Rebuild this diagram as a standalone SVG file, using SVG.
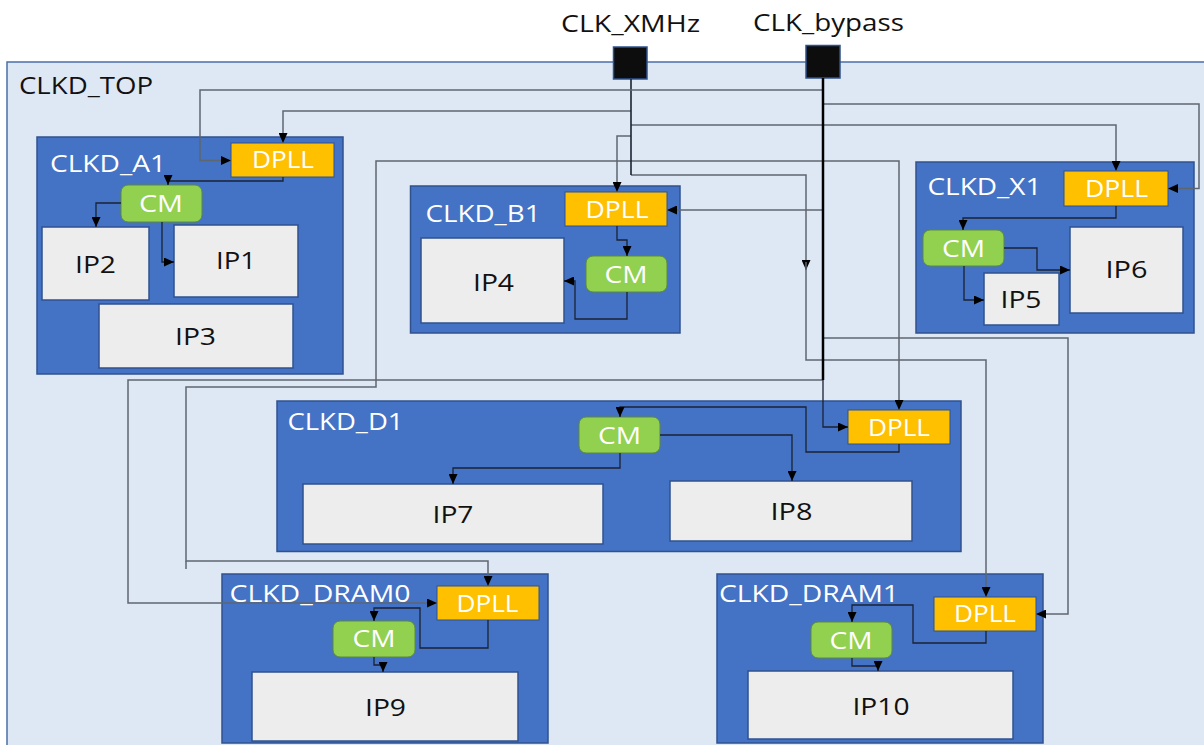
<svg xmlns="http://www.w3.org/2000/svg" width="1204" height="745" viewBox="0 0 1204 745">
  <style>
    text { font-family: "Open Sans", "Noto Sans", "DejaVu Sans", sans-serif; font-size: 24px; text-anchor: middle; lengthAdjust: spacingAndGlyphs; }
    .dark { fill: #111111; }
    .light { fill: #ffffff; }
    .top { fill: #DEE8F4; stroke: #4A6FA8; stroke-width: 1.5; }
    .port { fill: #0D0D0D; stroke: #2F528F; stroke-width: 1.5; }
    .blk { fill: #4472C4; stroke: #2F528F; stroke-width: 1.5; }
    .dpll { fill: #FFC000; stroke: #2F528F; stroke-width: 1; }
    .cm { fill: #92D050; stroke: #5C8A3C; stroke-width: 1; }
    .ip { fill: #EDEDED; stroke: #2F528F; stroke-width: 1.5; }
    .route { fill: none; stroke: #5E6670; stroke-width: 1.5; }
    .inner { fill: none; stroke: #1A2233; stroke-width: 1.3; }
    .main { fill: none; stroke: #000000; stroke-width: 2.5; }
  </style>
  <defs>
    <marker id="arrow" markerUnits="userSpaceOnUse" markerWidth="10" markerHeight="9" refX="10" refY="4.5" orient="auto">
      <path d="M0,0 L10,4.5 L0,9 z" fill="#000000"/>
    </marker>
  </defs>

  <!-- top-level clock domain -->
  <g id="clkd_top">
    <rect class="top" x="7" y="62" width="1215" height="700"/>
    <text class="dark" x="86" y="94" textLength="134" lengthAdjust="spacingAndGlyphs">CLKD_TOP</text>
  </g>

  <!-- input clock pins -->
  <g id="clk_xmhz">
    <rect class="port" x="613.5" y="47" width="33.5" height="32"/>
    <text class="dark" x="630.5" y="31.5" textLength="139" lengthAdjust="spacingAndGlyphs">CLK_XMHz</text>
  </g>
  <g id="clk_bypass">
    <rect class="port" x="806" y="45.5" width="34" height="32.5"/>
    <text class="dark" x="828.5" y="31" textLength="151" lengthAdjust="spacingAndGlyphs">CLK_bypass</text>
  </g>

  <!-- sub-domains -->
  <g id="clkd_a1">
    <rect class="blk" x="37" y="137" width="306" height="237"/>
    <text class="light" x="108" y="171.5" textLength="116" lengthAdjust="spacingAndGlyphs">CLKD_A1</text>
  </g>
  <g id="clkd_b1">
    <rect class="blk" x="410.5" y="186" width="269.5" height="147"/>
    <text class="light" x="483" y="222" textLength="115" lengthAdjust="spacingAndGlyphs">CLKD_B1</text>
  </g>
  <g id="clkd_x1">
    <rect class="blk" x="916" y="162" width="278" height="171"/>
    <text class="light" x="984.5" y="195" textLength="114" lengthAdjust="spacingAndGlyphs">CLKD_X1</text>
  </g>
  <g id="clkd_d1">
    <rect class="blk" x="277" y="401" width="684" height="150.5"/>
    <text class="light" x="345.5" y="430" textLength="116" lengthAdjust="spacingAndGlyphs">CLKD_D1</text>
  </g>
  <g id="clkd_dram0">
    <rect class="blk" x="222" y="574" width="326" height="169"/>
    <text class="light" x="320" y="602" textLength="181" lengthAdjust="spacingAndGlyphs">CLKD_DRAM0</text>
  </g>
  <g id="clkd_dram1">
    <rect class="blk" x="717" y="574" width="326" height="169"/>
    <text class="light" x="809" y="602" textLength="180" lengthAdjust="spacingAndGlyphs">CLKD_DRAM1</text>
  </g>

  <!-- DPLLs -->
  <g id="a1_dpll">
    <rect class="dpll" x="231" y="143" width="103" height="34"/>
    <text class="light" x="283" y="168" textLength="62" lengthAdjust="spacingAndGlyphs">DPLL</text>
  </g>
  <g id="b1_dpll">
    <rect class="dpll" x="565" y="192" width="102" height="34"/>
    <text class="light" x="617" y="218" textLength="63" lengthAdjust="spacingAndGlyphs">DPLL</text>
  </g>
  <g id="x1_dpll">
    <rect class="dpll" x="1064" y="171" width="104" height="35"/>
    <text class="light" x="1116.5" y="197" textLength="63" lengthAdjust="spacingAndGlyphs">DPLL</text>
  </g>
  <g id="d1_dpll">
    <rect class="dpll" x="848" y="410" width="102" height="34"/>
    <text class="light" x="899" y="436" textLength="62" lengthAdjust="spacingAndGlyphs">DPLL</text>
  </g>
  <g id="dram0_dpll">
    <rect class="dpll" x="437" y="586" width="102" height="34"/>
    <text class="light" x="487.5" y="611.5" textLength="62" lengthAdjust="spacingAndGlyphs">DPLL</text>
  </g>
  <g id="dram1_dpll">
    <rect class="dpll" x="934" y="597" width="102" height="34"/>
    <text class="light" x="985" y="622" textLength="62" lengthAdjust="spacingAndGlyphs">DPLL</text>
  </g>

  <!-- clock managers -->
  <g id="a1_cm">
    <rect class="cm" x="121" y="185" width="81" height="37" rx="7"/>
    <text class="light" x="161" y="212" textLength="44" lengthAdjust="spacingAndGlyphs">CM</text>
  </g>
  <g id="b1_cm">
    <rect class="cm" x="586" y="256" width="81" height="36" rx="7"/>
    <text class="light" x="626" y="282.5" textLength="43" lengthAdjust="spacingAndGlyphs">CM</text>
  </g>
  <g id="x1_cm">
    <rect class="cm" x="923" y="230" width="81" height="36" rx="7"/>
    <text class="light" x="963.5" y="257" textLength="43" lengthAdjust="spacingAndGlyphs">CM</text>
  </g>
  <g id="d1_cm">
    <rect class="cm" x="579" y="417" width="81" height="36" rx="7"/>
    <text class="light" x="619.5" y="444" textLength="43" lengthAdjust="spacingAndGlyphs">CM</text>
  </g>
  <g id="dram0_cm">
    <rect class="cm" x="333" y="621" width="82" height="36" rx="7"/>
    <text class="light" x="374" y="647" textLength="43" lengthAdjust="spacingAndGlyphs">CM</text>
  </g>
  <g id="dram1_cm">
    <rect class="cm" x="811" y="622" width="81" height="36" rx="7"/>
    <text class="light" x="851" y="649" textLength="43" lengthAdjust="spacingAndGlyphs">CM</text>
  </g>

  <!-- IP blocks -->
  <g id="ip1">
    <rect class="ip" x="174" y="225" width="124" height="72"/>
    <text class="dark" x="236" y="269" textLength="40" lengthAdjust="spacingAndGlyphs">IP1</text>
  </g>
  <g id="ip2">
    <rect class="ip" x="42" y="227" width="107" height="73"/>
    <text class="dark" x="95.5" y="272.5" textLength="41" lengthAdjust="spacingAndGlyphs">IP2</text>
  </g>
  <g id="ip3">
    <rect class="ip" x="99" y="304" width="194" height="64"/>
    <text class="dark" x="195.5" y="345" textLength="41" lengthAdjust="spacingAndGlyphs">IP3</text>
  </g>
  <g id="ip4">
    <rect class="ip" x="421" y="238" width="143" height="85"/>
    <text class="dark" x="493.5" y="290.5" textLength="41" lengthAdjust="spacingAndGlyphs">IP4</text>
  </g>
  <g id="ip5">
    <rect class="ip" x="984" y="273" width="75" height="52"/>
    <text class="dark" x="1021" y="307.5" textLength="41" lengthAdjust="spacingAndGlyphs">IP5</text>
  </g>
  <g id="ip6">
    <rect class="ip" x="1070" y="227" width="113" height="86"/>
    <text class="dark" x="1126.5" y="278" textLength="42" lengthAdjust="spacingAndGlyphs">IP6</text>
  </g>
  <g id="ip7">
    <rect class="ip" x="303" y="484" width="300" height="60"/>
    <text class="dark" x="453" y="523" textLength="41" lengthAdjust="spacingAndGlyphs">IP7</text>
  </g>
  <g id="ip8">
    <rect class="ip" x="670" y="481" width="242" height="60"/>
    <text class="dark" x="791.5" y="520" textLength="42" lengthAdjust="spacingAndGlyphs">IP8</text>
  </g>
  <g id="ip9">
    <rect class="ip" x="252" y="672" width="266" height="69"/>
    <text class="dark" x="385.5" y="716" textLength="41" lengthAdjust="spacingAndGlyphs">IP9</text>
  </g>
  <g id="ip10">
    <rect class="ip" x="748" y="671" width="265" height="68"/>
    <text class="dark" x="881" y="715" textLength="57" lengthAdjust="spacingAndGlyphs">IP10</text>
  </g>

  <!-- clock connections -->
  <g id="connectors">
    <!-- CLK_XMHz distribution -->
    <path class="route" d="M631,111 H283 V143" marker-end="url(#arrow)"/>
    <path class="route" d="M631,125 H1116 V171" marker-end="url(#arrow)"/>
    <path class="route" d="M631,136 H617 V192" marker-end="url(#arrow)"/>
    <path class="route" d="M631,161 H899 V410" marker-end="url(#arrow)"/>
    <path class="route" d="M631,161 H376 V387 H186 V561 H488 V586" marker-end="url(#arrow)"/>
    <path class="route" d="M186,561 V569"/>
    <path class="route" d="M631,175 H806 V270" marker-end="url(#arrow)"/>
    <path class="route" d="M806,262 V360 H986 V597" marker-end="url(#arrow)"/>
    <path class="inner" d="M631,79 V175" style="stroke-width:1.6"/>

    <!-- CLK_bypass distribution -->
    <path class="route" d="M823,90 H200 V160.5 H231" marker-end="url(#arrow)"/>
    <path class="route" d="M823,104 H1199 V188.5 H1168" marker-end="url(#arrow)"/>
    <path class="route" d="M823,210 H667" marker-end="url(#arrow)"/>
    <path class="route" d="M823,338 H1068 V614 H1036" marker-end="url(#arrow)"/>
    <path class="route" d="M823,380 H128 V603 H437" marker-end="url(#arrow)"/>
    <path class="inner" d="M823,380 V427 H848" marker-end="url(#arrow)"/>
    <path class="main" d="M823,78 V380"/>

    <!-- CLKD_A1 -->
    <path class="inner" d="M283,177 V181 H168 V185" marker-end="url(#arrow)"/>
    <path class="inner" d="M121,203 H96 V227" marker-end="url(#arrow)"/>
    <path class="inner" d="M162,222 V262 H174" marker-end="url(#arrow)"/>

    <!-- CLKD_B1 -->
    <path class="inner" d="M617,226 V240 H627 V256" marker-end="url(#arrow)"/>
    <path class="inner" d="M627,292 V319 H575 V281 H564" marker-end="url(#arrow)"/>

    <!-- CLKD_X1 -->
    <path class="inner" d="M1116,206 V218 H963 V230" marker-end="url(#arrow)"/>
    <path class="inner" d="M1004,248 H1037 V270 H1070" marker-end="url(#arrow)"/>
    <path class="inner" d="M964,266 V300 H984" marker-end="url(#arrow)"/>

    <!-- CLKD_D1 -->
    <path class="inner" d="M899,444 V452 H806 V407 H620 V417" marker-end="url(#arrow)"/>
    <path class="inner" d="M660,435 H792 V481" marker-end="url(#arrow)"/>
    <path class="inner" d="M620,453 V468 H453 V484" marker-end="url(#arrow)"/>

    <!-- CLKD_DRAM0 -->
    <path class="inner" d="M488,620 V648 H420 V608 H374 V621" marker-end="url(#arrow)"/>
    <path class="inner" d="M374,657 V665 H383 V672" marker-end="url(#arrow)"/>

    <!-- CLKD_DRAM1 -->
    <path class="inner" d="M986,631 V643 H913 V605 H852 V622" marker-end="url(#arrow)"/>
    <path class="inner" d="M852,658 V666 H878 V671" marker-end="url(#arrow)"/>
  </g>
</svg>
